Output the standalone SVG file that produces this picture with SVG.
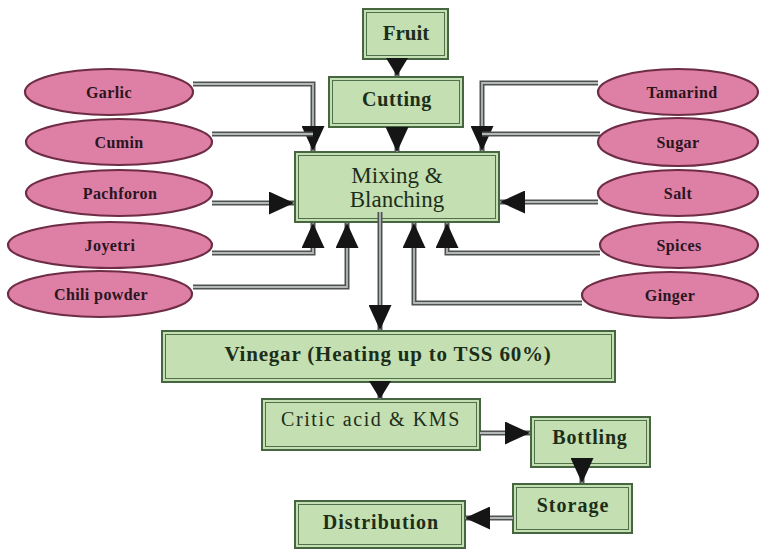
<svg xmlns="http://www.w3.org/2000/svg" width="759" height="550" viewBox="0 0 759 550">
<defs>
<style>
.box{fill:#c4dfb1;stroke:#456640;stroke-width:2}
.inb{fill:none;stroke:#4f7048;stroke-width:1}
.ell{fill:#de80a6;stroke:#6e2c45;stroke-width:2.2}
.eo{fill:none;stroke:#4e5250;stroke-width:5}
.ei{fill:none;stroke:#b4b8b6;stroke-width:1.8}
text{font-family:'Liberation Serif','DejaVu Serif',serif}
.t{fill:#1c2e1a;text-anchor:middle}
.b{font-weight:bold}
.et{font-weight:bold;font-size:16px;fill:#2a1520;text-anchor:middle;letter-spacing:0.4px}
</style>
<marker id="ah" markerUnits="userSpaceOnUse" markerWidth="25" markerHeight="23" viewBox="0 0 25 23" refX="25" refY="11.5" orient="auto">
<path d="M0,0 L25,11.5 L0,23 z" fill="#151515"/>
</marker>
<marker id="ahs" markerUnits="userSpaceOnUse" markerWidth="18" markerHeight="22" viewBox="0 0 18 22" refX="18" refY="11" orient="auto">
<path d="M0,0 L18,11 L0,22 z" fill="#151515"/>
</marker>
</defs>
<rect width="759" height="550" fill="#ffffff"/>

<g id="fruit"><rect class="box" x="363" y="9" width="85" height="50"/><rect class="inb" x="366.5" y="12.5" width="78" height="43"/><text class="t b" x="406" y="40" font-size="21">Fruit</text></g>
<g id="cutting"><rect class="box" x="329" y="77" width="134" height="50"/><rect class="inb" x="332.5" y="80.5" width="127" height="43"/><text class="t b" x="397" y="106" font-size="20" letter-spacing="0.6">Cutting</text></g>
<g id="mixing"><rect class="box" x="295" y="152" width="204" height="70"/><rect class="inb" x="298.5" y="155.5" width="197" height="63"/><text class="t" x="397" y="183" font-size="23">Mixing &amp;</text><text class="t" x="397" y="207" font-size="23">Blanching</text></g>
<g id="vinegar"><rect class="box" x="162" y="331" width="453" height="51"/><rect class="inb" x="165.5" y="334.5" width="446" height="44"/><text class="t b" x="388" y="361" font-size="21" letter-spacing="0.8">Vinegar (Heating up to TSS 60%)</text></g>
<g id="critic"><rect class="box" x="262" y="399" width="218" height="51"/><rect class="inb" x="265.5" y="402.5" width="211" height="44"/><text class="t" x="371" y="426" font-size="20" letter-spacing="1.6">Critic acid &amp; KMS</text></g>
<g id="bottling"><rect class="box" x="531" y="417" width="119" height="50"/><rect class="inb" x="534.5" y="420.5" width="112" height="43"/><text class="t b" x="590" y="444" font-size="20" letter-spacing="0.8">Bottling</text></g>
<g id="storage"><rect class="box" x="513" y="484" width="119" height="49"/><rect class="inb" x="516.5" y="487.5" width="112" height="42"/><text class="t b" x="573" y="512" font-size="20" letter-spacing="1">Storage</text></g>
<g id="distribution"><rect class="box" x="295" y="501" width="170" height="47"/><rect class="inb" x="298.5" y="504.5" width="163" height="40"/><text class="t b" x="381" y="529" font-size="20" letter-spacing="1">Distribution</text></g>

<g id="garlic"><ellipse class="ell" cx="109" cy="92" rx="84" ry="23"/><text class="et" x="109" y="98">Garlic</text></g>
<g id="cumin"><ellipse class="ell" cx="119" cy="142" rx="93" ry="23"/><text class="et" x="119" y="148">Cumin</text></g>
<g id="pachforon"><ellipse class="ell" cx="119" cy="193" rx="93" ry="23"/><text class="et" x="120" y="199" letter-spacing="1">Pachforon</text></g>
<g id="joyetri"><ellipse class="ell" cx="110" cy="245" rx="102" ry="23"/><text class="et" x="110" y="251" letter-spacing="1">Joyetri</text></g>
<g id="chili"><ellipse class="ell" cx="100" cy="294" rx="92" ry="23"/><text class="et" x="101" y="300">Chili powder</text></g>
<g id="tamarind"><ellipse class="ell" cx="678" cy="92" rx="80" ry="23"/><text class="et" x="682" y="98" letter-spacing="1.6">Tamarind</text></g>
<g id="sugar"><ellipse class="ell" cx="678" cy="142" rx="80" ry="24"/><text class="et" x="678" y="148">Sugar</text></g>
<g id="salt"><ellipse class="ell" cx="678" cy="193" rx="80" ry="23"/><text class="et" x="678" y="199">Salt</text></g>
<g id="spices"><ellipse class="ell" cx="679" cy="245" rx="79" ry="23"/><text class="et" x="679" y="251">Spices</text></g>
<g id="ginger"><ellipse class="ell" cx="670" cy="295" rx="88" ry="23"/><text class="et" x="670" y="301">Ginger</text></g>

<g id="connectors">
<path class="eo" d="M193,84 H313 V151"/><path class="ei" d="M193,84 H313 V151" marker-end="url(#ah)"/>
<path class="eo" d="M212,134 H313"/><path class="ei" d="M212,134 H313"/>
<path class="eo" d="M212,203 H294"/><path class="ei" d="M212,203 H294" marker-end="url(#ah)"/>
<path class="eo" d="M212,253 H313 V223"/><path class="ei" d="M212,253 H313 V223" marker-end="url(#ah)"/>
<path class="eo" d="M193,287 H347 V223"/><path class="ei" d="M193,287 H347 V223" marker-end="url(#ah)"/>
<path class="eo" d="M598,83 H482 V151"/><path class="ei" d="M598,83 H482 V151" marker-end="url(#ah)"/>
<path class="eo" d="M600,134 H482"/><path class="ei" d="M600,134 H482"/>
<path class="eo" d="M598,202 H500"/><path class="ei" d="M598,202 H500" marker-end="url(#ah)"/>
<path class="eo" d="M600,253 H447 V223"/><path class="ei" d="M600,253 H447 V223" marker-end="url(#ah)"/>
<path class="eo" d="M582,303 H414 V223"/><path class="ei" d="M582,303 H414 V223" marker-end="url(#ah)"/>
<path class="eo" d="M397,59 V76"/><path class="ei" d="M397,59 V76" marker-end="url(#ahs)"/>
<path class="eo" d="M397,127 V152"/><path class="ei" d="M397,127 V152" marker-end="url(#ah)"/>
<path class="eo" d="M380,212 V330"/><path class="ei" d="M380,212 V330" marker-end="url(#ah)"/>
<path class="eo" d="M380,382 V399"/><path class="ei" d="M380,382 V399" marker-end="url(#ahs)"/>
<path class="eo" d="M480,433 H530"/><path class="ei" d="M480,433 H530" marker-end="url(#ah)"/>
<path class="eo" d="M582,462 V483"/><path class="ei" d="M582,462 V483" marker-end="url(#ah)"/>
<path class="eo" d="M513,518 H465"/><path class="ei" d="M513,518 H465" marker-end="url(#ah)"/>
</g>
</svg>
